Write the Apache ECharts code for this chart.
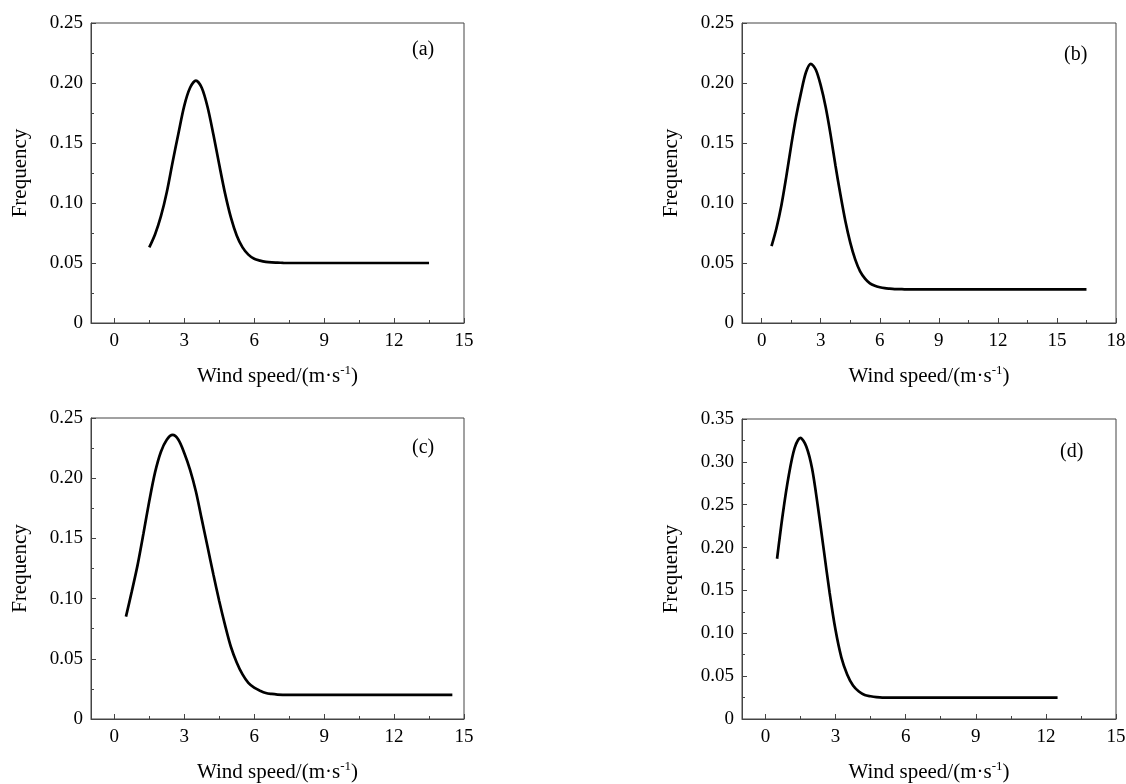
<!DOCTYPE html>
<html>
<head>
<meta charset="utf-8">
<script src="https://cdn.jsdelivr.net/npm/echarts@6/dist/echarts.min.js"></script>
<style>
html, body { margin: 0; padding: 0; background: #fff; }
#main { width: 1126px; height: 784px; }
</style>
</head>
<body>
<div id="main"></div>
<script>
// wind speed (m/s) and frequency for each panel
var xA = [1.5, 1.75, 2, 2.25, 2.5, 2.75, 3, 3.25, 3.5, 3.75, 4, 4.25, 4.5, 4.75, 5, 5.25, 5.5, 5.75, 6, 6.25, 6.5, 6.75, 7, 7.25, 7.5, 8, 9, 10, 11, 12, 13, 13.5];
var yA = [0.063, 0.074, 0.089, 0.109, 0.134, 0.158, 0.181, 0.196, 0.202, 0.196, 0.180, 0.157, 0.132, 0.108, 0.088, 0.073, 0.063, 0.057, 0.0535, 0.052, 0.051, 0.0505, 0.0503, 0.0501, 0.050, 0.050, 0.050, 0.050, 0.050, 0.050, 0.050, 0.050];

var xB = [0.5, 0.75, 1, 1.25, 1.5, 1.75, 2, 2.25, 2.5, 2.75, 3, 3.25, 3.5, 3.75, 4, 4.25, 4.5, 4.75, 5, 5.25, 5.5, 5.75, 6, 6.25, 6.5, 6.75, 7, 7.25, 7.5, 8, 9, 10, 11, 12, 13, 14, 15, 16, 16.5];
var yB = [0.064, 0.079, 0.098, 0.122, 0.148, 0.172, 0.192, 0.209, 0.216, 0.211, 0.198, 0.180, 0.157, 0.131, 0.107, 0.085, 0.067, 0.053, 0.043, 0.037, 0.033, 0.031, 0.0298, 0.029, 0.0286, 0.0283, 0.0282, 0.0281, 0.028, 0.028, 0.028, 0.028, 0.028, 0.028, 0.028, 0.028, 0.028, 0.028, 0.028];

var xC = [0.5, 0.75, 1, 1.25, 1.5, 1.75, 2, 2.25, 2.5, 2.75, 3, 3.25, 3.5, 3.75, 4, 4.25, 4.5, 4.75, 5, 5.25, 5.5, 5.75, 6, 6.25, 6.5, 6.75, 7, 7.25, 7.5, 8, 9, 10, 11, 12, 13, 14, 14.5];
var yC = [0.085, 0.106, 0.128, 0.154, 0.181, 0.205, 0.222, 0.232, 0.236, 0.232, 0.221, 0.207, 0.189, 0.166, 0.143, 0.120, 0.098, 0.078, 0.060, 0.047, 0.037, 0.030, 0.026, 0.0235, 0.0216, 0.0208, 0.0203, 0.0201, 0.020, 0.020, 0.020, 0.020, 0.020, 0.020, 0.020, 0.020, 0.020];

var xD = [0.5, 0.75, 1, 1.25, 1.5, 1.75, 2, 2.25, 2.5, 2.75, 3, 3.25, 3.5, 3.75, 4, 4.25, 4.5, 4.75, 5, 5.25, 5.5, 5.75, 6, 6.25, 6.5, 6.75, 7, 7.25, 7.5, 8, 9, 10, 11, 12, 12.5];
var yD = [0.187, 0.240, 0.284, 0.316, 0.328, 0.318, 0.292, 0.247, 0.197, 0.147, 0.104, 0.072, 0.052, 0.039, 0.032, 0.028, 0.0265, 0.0255, 0.025, 0.025, 0.025, 0.025, 0.025, 0.025, 0.025, 0.025, 0.025, 0.025, 0.025, 0.025, 0.025, 0.025, 0.025, 0.025, 0.025];

// tick labels
var xTicks15 = [0, 3, 6, 9, 12, 15];
var xTicks18 = [0, 3, 6, 9, 12, 15, 18];
var xMinor15 = [1.5, 4.5, 7.5, 10.5, 13.5];
var xMinor18 = [1.5, 4.5, 7.5, 10.5, 13.5, 16.5];
var panelTags = ['(a)', '(b)', '(c)', '(d)'];

var FONT = 'Liberation Serif';
var AXIS_COLOR = '#444';

var panels = [
    { grid: { left: 91, top: 23, width: 373, height: 300 }, xMax: 15, ticks: xTicks15, minor: xMinor15, yMax: 0.25, xs: xA, ys: yA, tag: { left: 412, top: 40 } },
    { grid: { left: 742, top: 23, width: 374, height: 300 }, xMax: 18, ticks: xTicks18, minor: xMinor18, yMax: 0.25, xs: xB, ys: yB, tag: { left: 1064, top: 45 } },
    { grid: { left: 91, top: 418, width: 373, height: 301 }, xMax: 15, ticks: xTicks15, minor: xMinor15, yMax: 0.25, xs: xC, ys: yC, tag: { left: 412, top: 438 } },
    { grid: { left: 742, top: 419, width: 374, height: 300 }, xMax: 15, ticks: xTicks15, minor: xMinor15, yMax: 0.35, xs: xD, ys: yD, tag: { left: 1060, top: 442 } }
];

function pairs(xs, ys) {
    var out = [];
    for (var i = 0; i < xs.length; i++) {
        out.push([xs[i], ys[i]]);
    }
    return out;
}

var grids = [], xAxes = [], yAxes = [], series = [], graphics = [];
var lineStyle = { color: AXIS_COLOR, width: 1 };

for (var i = 0; i < panels.length; i++) {
    var p = panels[i];
    grids.push({
        left: p.grid.left, top: p.grid.top, width: p.grid.width, height: p.grid.height,
        show: true, borderColor: AXIS_COLOR, borderWidth: 1,
        containLabel: false, outerBoundsMode: 'none'
    });
    // main x axis (major ticks + labels)
    xAxes.push({
        gridIndex: i, type: 'value', position: 'bottom',
        min: -1, max: p.xMax,
        axisLine: { show: true, onZero: false, lineStyle: lineStyle },
        axisTick: { show: true, inside: true, length: 5, customValues: p.ticks, lineStyle: lineStyle },
        axisLabel: { customValues: p.ticks, margin: 9, fontFamily: FONT, fontSize: 19, color: '#000' },
        splitLine: { show: false },
        name: '{n|Wind speed/(m·s}{s|-1}{n|)}',
        nameLocation: 'middle', nameGap: 41,
        nameTextStyle: {
            fontFamily: FONT, fontSize: 21, color: '#000',
            rich: {
                n: { fontFamily: FONT, fontSize: 21, color: '#000', lineHeight: 24 },
                s: { fontFamily: FONT, fontSize: 13, color: '#000', verticalAlign: 'top', lineHeight: 24 }
            }
        }
    });
    // minor x ticks
    xAxes.push({
        gridIndex: i, type: 'value', position: 'bottom',
        min: -1, max: p.xMax,
        axisLine: { show: false },
        axisTick: { show: true, inside: true, length: 3, customValues: p.minor, lineStyle: lineStyle },
        axisLabel: { show: false },
        splitLine: { show: false }
    });
    yAxes.push({
        gridIndex: i, type: 'value',
        min: 0, max: p.yMax, interval: 0.05,
        axisLine: { show: true, onZero: false, lineStyle: lineStyle },
        axisTick: { show: true, inside: true, length: 5, lineStyle: lineStyle },
        minorTick: { show: true, splitNumber: 2, length: 3, lineStyle: lineStyle },
        axisLabel: {
            margin: 8, fontFamily: FONT, fontSize: 19, color: '#000',
            formatter: function (v) { return v === 0 ? '0' : v.toFixed(2); }
        },
        splitLine: { show: false },
        minorSplitLine: { show: false },
        name: 'Frequency', nameLocation: 'middle', nameGap: 60, nameRotate: 90,
        nameTextStyle: { fontFamily: FONT, fontSize: 21, color: '#000' }
    });
    series.push({
        type: 'line',
        xAxisIndex: i * 2, yAxisIndex: i,
        data: pairs(p.xs, p.ys),
        smooth: 0.3,
        showSymbol: false,
        silent: true,
        lineStyle: { color: '#000', width: 2.7 }
    });
    graphics.push({
        type: 'text', left: p.tag.left, top: p.tag.top,
        style: { text: panelTags[i], font: '20px "' + FONT + '"', fill: '#000' }
    });
}

var chart = echarts.init(document.getElementById('main'), null, { renderer: 'canvas' });
chart.setOption({
    animation: false,
    backgroundColor: '#fff',
    grid: grids,
    xAxis: xAxes,
    yAxis: yAxes,
    series: series,
    graphic: graphics
});
</script>
</body>
</html>
